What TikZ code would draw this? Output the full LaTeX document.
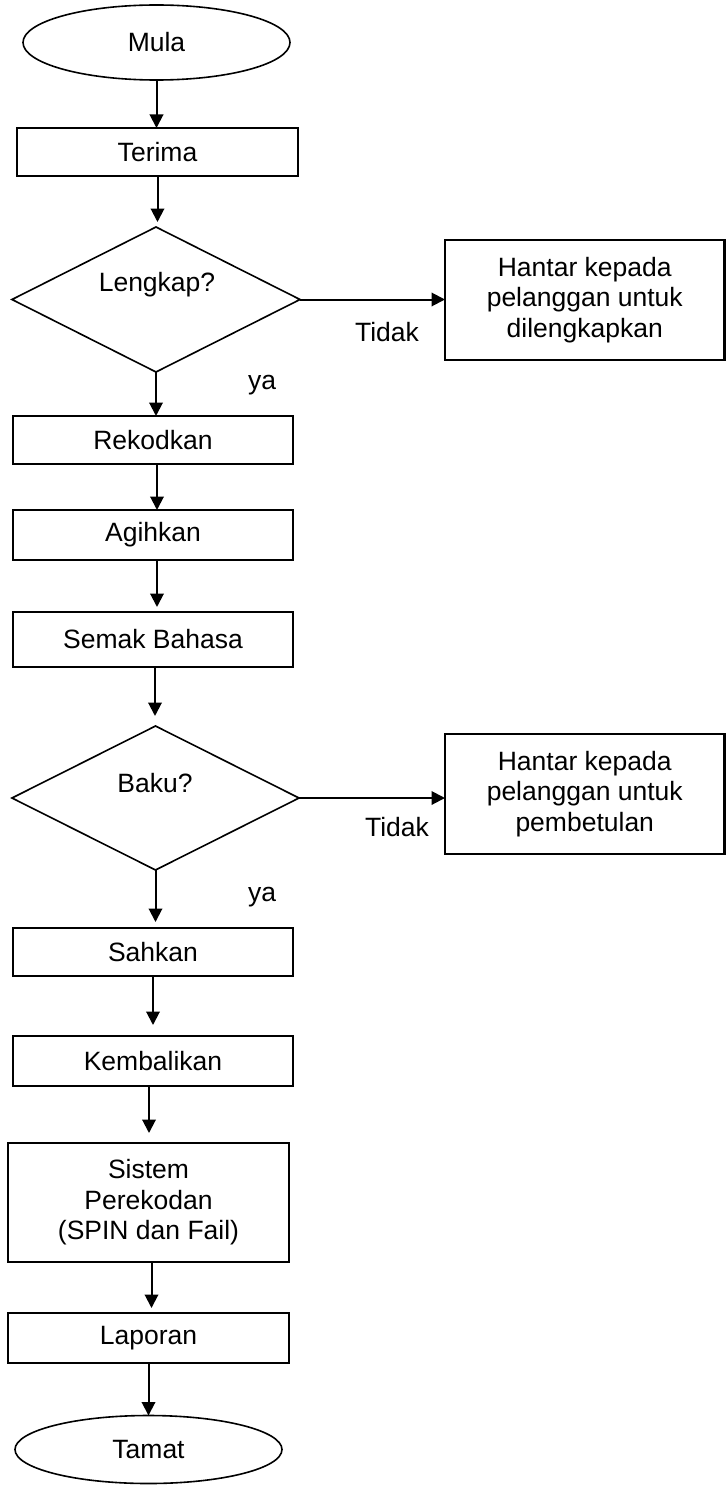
\documentclass[tikz,border=0pt]{standalone}
\usepackage{fontspec}
\setmainfont{Liberation Sans}
\usetikzlibrary{shapes.geometric,arrows.meta}
\begin{document}
\begin{tikzpicture}[x=1pt,y=-1pt,
  every node/.style={font=\fontsize{26.5}{30.5}\selectfont, inner sep=0pt, outer sep=0pt},
  box/.style={draw, line width=2.2pt, align=center},
  term/.style={draw, ellipse, line width=1.6pt},
  dec/.style={draw, diamond, line width=1.6pt},
  arr/.style={line width=2pt, -{Triangle[length=13.5pt,width=13.5pt]}}]
\useasboundingbox (0,0) rectangle (726,1485);

\node[term, minimum width=267pt, minimum height=75pt] (mula) at (156.5,42.5) {Mula};
\node[box, minimum width=281pt, minimum height=48pt] (terima) at (157.5,152) {Terima};
\node[dec, minimum width=288pt, minimum height=145pt] (d1) at (156,299.5) {};
\node (d1t) at (157,285) {Lengkap?};
\node[box, minimum width=279.5pt, minimum height=120pt] (h1) at (584.75,300) {Hantar kepada\\pelanggan untuk\\dilengkapkan};
\node (t1) at (387,332) {Tidak};
\node (y1) at (262,385) {ya};
\node[box, minimum width=280pt, minimum height=48pt] (rek) at (153,440) {Rekodkan};
\node[box, minimum width=280pt, minimum height=50pt] (agih) at (153,535) {Agihkan};
\node[box, minimum width=280pt, minimum height=55pt] (semak) at (153,639.5) {Semak Bahasa};
\node[dec, minimum width=287pt, minimum height=144pt] (d2) at (155.5,798) {};
\node (d2t) at (155,783) {Baku?};
\node[box, minimum width=279.5pt, minimum height=120pt] (h2) at (584.75,794) {Hantar kepada\\pelanggan untuk\\pembetulan};
\node (t2) at (397,827) {Tidak};
\node (y2) at (262,897) {ya};
\node[box, minimum width=280pt, minimum height=48pt] (sahkan) at (153,952) {Sahkan};
\node[box, minimum width=280pt, minimum height=50pt] (kemb) at (153,1061) {Kembalikan};
\node[box, minimum width=281pt, minimum height=119pt] (sistem) at (148.5,1202.5) {Sistem\\Perekodan\\(SPIN dan Fail)};
\node[box, minimum width=281pt, minimum height=50pt] (lap) at (148.5,1338) {Laporan};
\node[term, minimum width=267pt, minimum height=68pt] (tamat) at (148.5,1449.5) {Tamat};

\draw[arr] (mula.south) -- (mula.south |- terima.north);
\draw[arr, shorten >=5pt] (terima.south) -- (terima.south |- d1.north);
\draw[arr] (d1.south) -- (d1.south |- rek.north);
\draw[arr] ([xshift=4pt]rek.south) -- ([xshift=4pt]rek.south |- agih.north);
\draw[arr, shorten >=5pt] ([xshift=4pt]agih.south) -- ([xshift=4pt]agih.south |- semak.north);
\draw[arr, shorten >=10pt] ([xshift=2pt]semak.south) -- ([xshift=2pt]semak.south |- d2.north);
\draw[arr, shorten >=6pt] (d2.south) -- (d2.south |- sahkan.north);
\draw[arr, shorten >=11pt] (sahkan.south) -- (sahkan.south |- kemb.north);
\draw[arr, shorten >=10pt] ([xshift=-4pt]kemb.south) -- ([xshift=-4pt]kemb.south |- sistem.north);
\draw[arr, shorten >=5pt] ([xshift=3pt]sistem.south) -- ([xshift=3pt]sistem.south |- lap.north);
\draw[arr] (lap.south) -- (lap.south |- tamat.north);
\draw[arr] (d1.east) -- (d1.east -| h1.west);
\draw[arr] (d2.east) -- (d2.east -| h2.west);
\end{tikzpicture}
\end{document}
